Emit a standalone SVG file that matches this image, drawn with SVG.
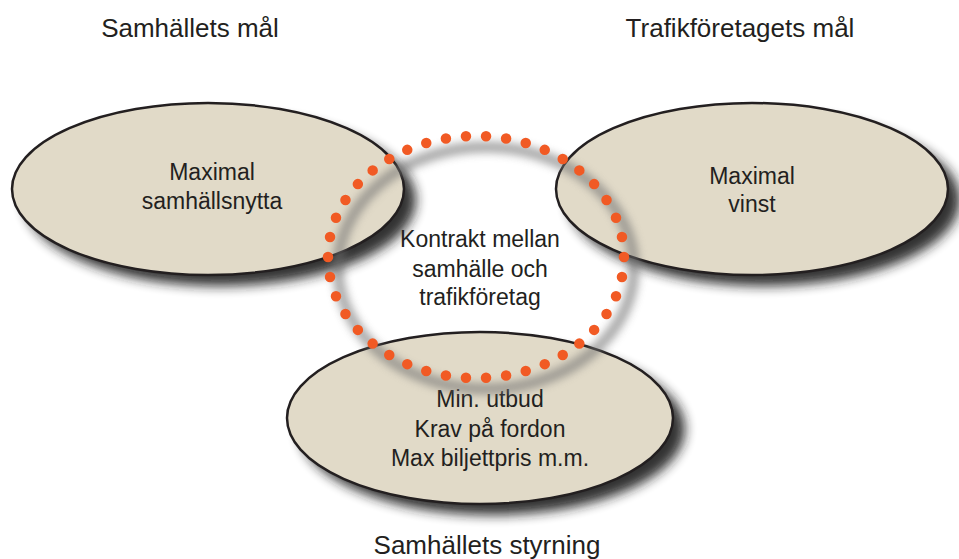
<svg xmlns="http://www.w3.org/2000/svg" width="959" height="559" viewBox="0 0 959 559">
<defs>
<filter id="sh" x="-20%" y="-20%" width="150%" height="150%">
<feGaussianBlur stdDeviation="6"/>
</filter>
<filter id="rsh" x="-20%" y="-20%" width="150%" height="150%">
<feGaussianBlur stdDeviation="4"/>
</filter>
</defs>
<style>
.ell{fill:#e1dac8;stroke:#231f20;stroke-width:2.5}
.shd{fill:#1e1e1e;opacity:0.9;filter:url(#sh)}
.t{font-family:"Liberation Sans",Arial,sans-serif;fill:#231f20;text-anchor:middle}
.title{font-size:26px}
.lbl{font-size:23px}
.lbl2{font-size:23px}
</style>
<rect width="959" height="559" fill="#ffffff"/>
<g id="samhallsnytta">
<ellipse class="shd" cx="220" cy="200" rx="196" ry="86"/>
<ellipse class="ell" cx="208" cy="189" rx="196" ry="86"/>
<text class="t lbl" x="212" y="180">Maximal</text>
<text class="t lbl" x="212" y="209">samhällsnytta</text>
</g>
<g id="vinst">
<ellipse class="shd" cx="764" cy="200" rx="196" ry="86"/>
<ellipse class="ell" cx="752" cy="189" rx="196" ry="86"/>
<text class="t lbl" x="752" y="184">Maximal</text>
<text class="t lbl" x="752" y="212">vinst</text>
</g>
<g id="styrning">
<ellipse class="shd" cx="492" cy="429" rx="193" ry="86"/>
<ellipse class="ell" cx="480" cy="418" rx="193" ry="86"/>
<text class="t lbl2" x="490" y="407">Min. utbud</text>
<text class="t lbl2" x="490" y="437">Krav på fordon</text>
<text class="t lbl2" x="490" y="466">Max biljettpris m.m.</text>
</g>
<g id="kontrakt">
<ellipse cx="486" cy="268" rx="148" ry="121" fill="none" stroke="#707070" stroke-width="11" opacity="0.6" filter="url(#rsh)"/>
<ellipse cx="476" cy="257" rx="148" ry="121" fill="none" stroke="#f15a24" stroke-width="10.5" stroke-linecap="round" stroke-dasharray="0 20" pathLength="840"/>
<text class="t lbl2" x="480" y="247">Kontrakt mellan</text>
<text class="t lbl2" x="480" y="277">samhälle och</text>
<text class="t lbl2" x="480" y="305">trafikföretag</text>
</g>
<g id="titles">
<text class="t title" x="190" y="37">Samhällets mål</text>
<text class="t title" x="740" y="37">Trafikföretagets mål</text>
<text class="t title" x="487" y="554">Samhällets styrning</text>
</g>
<g id="connectors"/>
</svg>
